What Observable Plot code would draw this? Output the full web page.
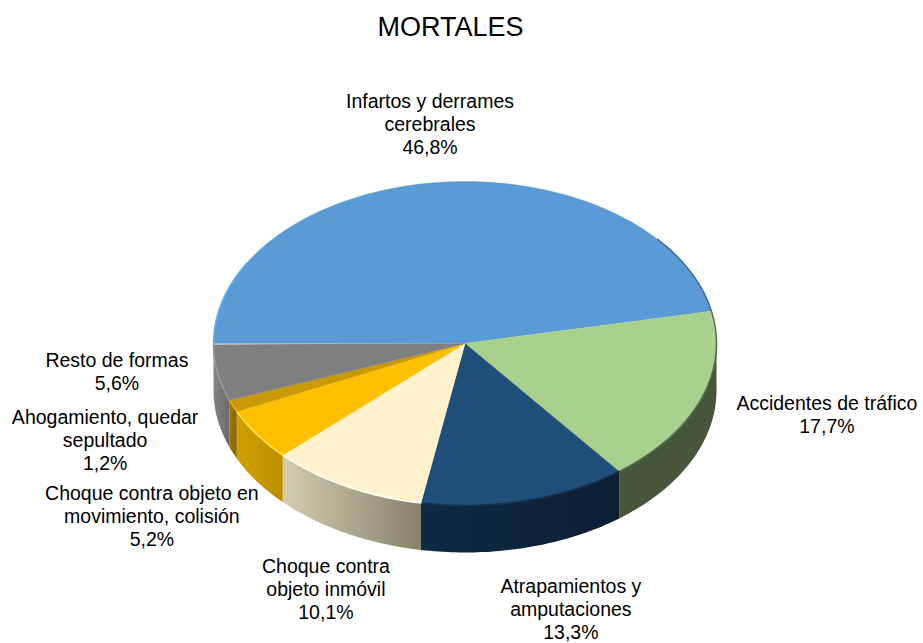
<!DOCTYPE html>
<html lang="es">
<head>
<meta charset="utf-8">
<script src="https://cdn.jsdelivr.net/npm/d3@7"></script>
<script src="https://cdn.jsdelivr.net/npm/@observablehq/plot@0.6"></script>
<style>
  html, body { margin: 0; padding: 0; background: #fff; }
  #title { height: 50px; text-align: center; width: 901px;
           font: 27px/54px "Liberation Sans", Arial, sans-serif; color: #000; }
  svg { display: block; }
</style>
</head>
<body>
<div id="title">MORTALES</div>
<div id="chart"></div>
<script>
// Data, clockwise from the left of the pie
const categories = ["Infartos y derrames\ncerebrales", "Accidentes de tráfico", "Atrapamientos y\namputaciones",
  "Choque contra\nobjeto inmóvil", "Choque contra objeto en\nmovimiento, colisión",
  "Ahogamiento, quedar\nsepultado", "Resto de formas"];
const shares = [46.8, 17.7, 13.3, 10.1, 5.2, 1.2, 5.6];
const shareLabels = ["46,8%", "17,7%", "13,3%", "10,1%", "5,2%", "1,2%", "5,6%"];

// Styles
const topColors = ["#5b9bd5", "#a9d18e", "#1f4e79", "#fff2cc", "#ffc000", "#c99a04", "#7f7f7f"];
const rimColors = ["#6db2f0", "#55684a", "#123250", "#fffdf0", "#ffe14d", "#e0b020", "#9a9a9a"];
const wallFrom = ["#5b9bd5", "#46563b", "#0f2a45", "#d3ccb0", "#d0a000", "#9a7600", "#858585"];
const wallTo = ["#5b9bd5", "#46563b", "#0b1f33", "#88826c", "#bd8f00", "#8a6a00", "#6a6a6a"];

// Label centres, in units of the pie radius
const labelXs = [-0.139, 1.439, 0.421, -0.553, -1.245, -1.431, -1.384];
const labelYs = [1.358, -0.438, -1.636, -1.512, -1.062, -0.593, -0.17];

const depth = 0.29;
let cum = 0;
const slices = shares.map((s, i) => {
  const a0 = 180 - cum * 3.6; cum += s;
  return {i, a0, a1: 180 - cum * 3.6};
});
const arc = (a0, a1) => {
  const n = Math.max(2, Math.ceil(Math.abs(a1 - a0)));
  return d3.range(n + 1).map(k => {
    const t = (a0 + (a1 - a0) * k / n) * Math.PI / 180;
    return {x: Math.cos(t), y: Math.sin(t)};
  });
};
const topFace = s => [{x: 0, y: 0}, ...arc(s.a0, s.a1)];
// Angles run from 180 down to -180; the wall shows below 0
const fronted = slices.map(s => {
  const hi = Math.min(s.a0, 0), lo = s.a1;
  return {...s, front: hi > lo ? arc(hi, lo) : []};
}).filter(s => s.front.length);
const wall = s => [...s.front, ...s.front.slice().reverse().map(p => ({x: p.x, y: p.y - depth}))];

// Bevel on the back half of the rim: light on the left, dark on the right
const bevels = [
  {from: 180, to: 150, stroke: "#6db2f0"},
  {from: 40, to: slices[0].a1, stroke: "#3d6a94"},
  {from: slices[1].a0, to: 0, stroke: "#55684a"}
];

const labels = categories.map((c, i) => ({x: labelXs[i], y: labelYs[i], text: c + "\n" + shareLabels[i]}));

const offset = 50;
const defs = () => {
  const ns = "http://www.w3.org/2000/svg";
  const d = document.createElementNS(ns, "defs");
  wallFrom.forEach((c, i) => {
    const g = document.createElementNS(ns, "linearGradient");
    g.setAttribute("id", "wall" + i);
    [[0, c], [1, wallTo[i]]].forEach(([o, col]) => {
      const st = document.createElementNS(ns, "stop");
      st.setAttribute("offset", o); st.setAttribute("stop-color", col);
      g.appendChild(st);
    });
    d.appendChild(g);
  });
  return d;
};

const chart = Plot.plot({
  width: 923,
  height: 643 - offset,
  margin: 0,
  x: {domain: [-1, 1], range: [213, 716], axis: null},
  y: {domain: [1, -1], range: [181 - offset, 505 - offset], axis: null},
  marks: [
    defs,
    ...fronted.map(s =>
      Plot.line(wall(s), {x: "x", y: "y", fill: `url(#wall${s.i})`, stroke: "none", curve: "linear"})),
    ...slices.map(s =>
      Plot.line(topFace(s), {x: "x", y: "y", fill: topColors[s.i], stroke: topColors[s.i], strokeWidth: 0.4, curve: "linear"})),
    ...fronted.map(s =>
      Plot.line(s.front, {x: "x", y: "y", stroke: rimColors[s.i], strokeWidth: 1.6, imageFilter: "blur(0.6px)", curve: "linear"})),
    ...bevels.map(b =>
      Plot.line(arc(b.from, b.to), {x: "x", y: "y", stroke: b.stroke, strokeWidth: 1.4, imageFilter: "blur(0.5px)", curve: "linear"})),
    Plot.text(labels, {x: "x", y: "y", text: "text", fontSize: 19.5, lineHeight: 1.18, fill: "#000",
      fontFamily: "Liberation Sans, Arial, sans-serif", textAnchor: "middle"})
  ]
});
document.getElementById("chart").appendChild(chart);
</script>
</body>
</html>
